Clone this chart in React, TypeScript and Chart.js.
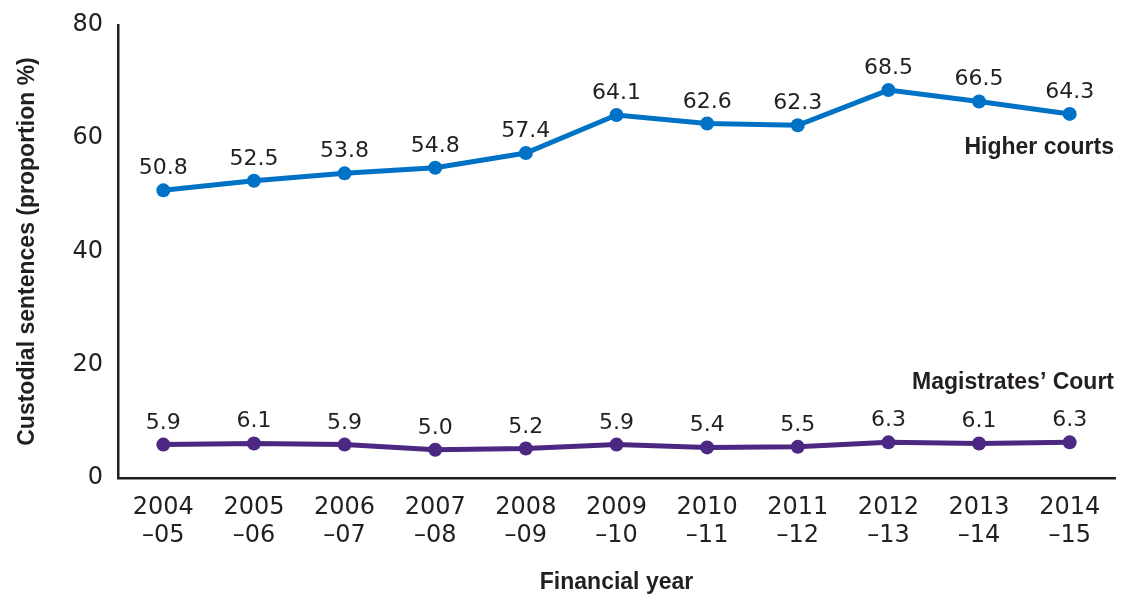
import React, { useEffect, useRef } from "react";
import { Chart, registerables } from "chart.js";

Chart.register(...registerables);

const categories: string[][] = [
  ["2004", "–05"], ["2005", "–06"], ["2006", "–07"], ["2007", "–08"], ["2008", "–09"],
  ["2009", "–10"], ["2010", "–11"], ["2011", "–12"], ["2012", "–13"], ["2013", "–14"], ["2014", "–15"],
];
const higherCourts: number[] = [50.8, 52.5, 53.8, 54.8, 57.4, 64.1, 62.6, 62.3, 68.5, 66.5, 64.3];
const magistratesCourt: number[] = [5.9, 6.1, 5.9, 5.0, 5.2, 5.9, 5.4, 5.5, 6.3, 6.1, 6.3];
const seriesNames: string[] = ["Higher courts", "Magistrates’ Court"];
const seriesLabelValues: number[] = [57.2, 15.7];
const yTicks: number[] = [0, 20, 40, 60, 80];

const TEXT = "#231f20";
const BLUE = "#0072c6";
const PURPLE = "#4b2882";
const NUM_FONT = "'DejaVu Sans', sans-serif";
const BOLD_FONT = "'Liberation Sans', Arial, sans-serif";

const labelPlugin = {
  id: "labels",
  afterDatasetsDraw(chart: any) {
    const ctx = chart.ctx;
    ctx.save();
    ctx.fillStyle = TEXT;
    ctx.textAlign = "center";
    ctx.textBaseline = "alphabetic";
    ctx.font = `22px ${NUM_FONT}`;
    chart.data.datasets.forEach((ds: any, i: number) => {
      const meta = chart.getDatasetMeta(i);
      meta.data.forEach((pt: any, j: number) => {
        ctx.fillText((ds.data[j] as number).toFixed(1), pt.x, pt.y - 16);
      });
    });
    const y = chart.scales.y;
    ctx.textAlign = "right";
    ctx.font = `bold 23px ${BOLD_FONT}`;
    seriesNames.forEach((name, i) => {
      ctx.fillText(name, chart.chartArea.right - 1, y.getPixelForValue(seriesLabelValues[i]));
    });
    ctx.restore();
  },
};

export default function App() {
  const ref = useRef<HTMLCanvasElement>(null);
  useEffect(() => {
    if (!ref.current) return;
    const chart = new Chart(ref.current, {
      type: "line",
      data: {
        labels: categories,
        datasets: [
          {
            label: seriesNames[0],
            data: higherCourts,
            borderColor: BLUE,
            backgroundColor: BLUE,
            borderWidth: 5,
            pointRadius: 7,
            pointHoverRadius: 7,
            pointBorderWidth: 0,
            tension: 0,
          },
          {
            label: seriesNames[1],
            data: magistratesCourt,
            borderColor: PURPLE,
            backgroundColor: PURPLE,
            borderWidth: 5,
            pointRadius: 7,
            pointHoverRadius: 7,
            pointBorderWidth: 0,
            tension: 0,
          },
        ],
      },
      options: {
        responsive: false,
        animation: false,
        layout: { padding: { top: 25, right: 5, left: 0, bottom: 0 } },
        plugins: { legend: { display: false }, tooltip: { enabled: false } },
        scales: {
          x: {
            offset: true,
            grid: { display: false, drawTicks: false },
            border: { display: true, color: TEXT, width: 2.5 },
            ticks: {
              color: TEXT,
              font: { family: NUM_FONT, size: 24, lineHeight: 1.2 },
              padding: 15,
              maxRotation: 0,
              autoSkip: false,
            },
            title: {
              display: true,
              text: "Financial year",
              color: TEXT,
              font: { family: BOLD_FONT, size: 23, weight: "bold", lineHeight: 1.2 },
              padding: { top: 0, bottom: 0 },
            },
            afterFit: (s: any) => { s.height = 118; s.paddingLeft = 0; s.paddingRight = 0; },
          },
          y: {
            min: 0,
            max: 80,
            afterBuildTicks: (s: any) => { s.ticks = yTicks.map((v) => ({ value: v })); },
            grid: { display: false, drawTicks: false },
            border: { display: true, color: TEXT, width: 2.5 },
            ticks: {
              color: TEXT,
              font: { family: NUM_FONT, size: 24 },
              padding: 15,
            },
            title: {
              display: true,
              text: "Custodial sentences (proportion %)",
              color: TEXT,
              font: { family: BOLD_FONT, size: 23, weight: "bold", lineHeight: 1.2 },
              padding: { top: 14, bottom: 0 },
            },
            afterFit: (s: any) => { s.width = 118; s.paddingTop = 0; s.paddingBottom = 0; },
          },
        },
      },
      plugins: [labelPlugin],
    });
    return () => chart.destroy();
  }, []);
  return (
    <div style={{ position: "fixed", left: 0, top: 0, width: 1122, height: 596, background: "#fff" }}>
      <canvas ref={ref} width={1122} height={596} />
    </div>
  );
}
